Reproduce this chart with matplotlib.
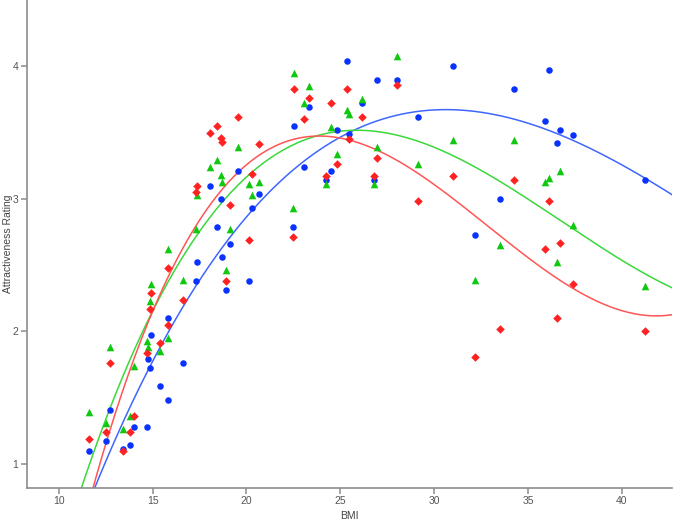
import numpy as np
import matplotlib
matplotlib.use("Agg")
import matplotlib.pyplot as plt

# ==== Data ====
bmi = [11.60, 12.52, 12.73, 13.44, 13.81, 14.01, 14.70, 14.74, 14.89, 14.92,
       15.41, 15.80, 15.83, 16.62, 17.30, 17.35, 18.04, 18.45, 18.65, 18.68,
       18.91, 19.10, 19.55, 20.15, 20.31, 20.67, 22.49, 22.51, 23.08, 23.34,
       24.22, 24.51, 24.82, 25.34, 25.48, 26.17, 26.78, 26.94, 28.01, 29.14,
       31.02, 32.17, 33.51, 34.26, 35.92, 36.14, 36.56, 36.72, 37.42, 41.24]

rating_blue = [1.10, 1.17, 1.41, 1.11, 1.14, 1.28, 1.28, 1.79, 1.72, 1.97,
               1.59, 1.48, 2.10, 1.76, 2.38, 2.52, 3.10, 2.79, 3.00, 2.56,
               2.31, 2.66, 3.21, 2.38, 2.93, 3.04, 2.79, 3.55, 3.24, 3.69,
               3.14, 3.21, 3.52, 4.04, 3.49, 3.72, 3.14, 3.90, 3.90, 3.62,
               4.00, 2.73, 3.00, 3.83, 3.59, 3.97, 3.42, 3.52, 3.48, 3.14]

rating_red = [1.19, 1.24, 1.76, 1.10, 1.24, 1.36, 1.84, np.nan, 2.17, 2.29,
              1.91, 2.05, 2.48, 2.24, 3.05, 3.10, 3.50, 3.55, 3.46, 3.43,
              2.38, 2.95, 3.62, 2.69, 3.19, 3.41, 2.71, 3.83, 3.60, 3.76,
              3.17, 3.72, 3.26, 3.83, 3.45, 3.62, 3.17, 3.31, 3.86, 2.98,
              3.17, 1.81, 2.02, 3.14, 2.62, 2.98, 2.10, 2.67, 2.36, 2.00]

rating_green = [1.39, 1.31, 1.88, 1.26, 1.36, 1.74, 1.93, 1.88, 2.23, 2.36,
                1.85, 1.95, 2.62, 2.39, 2.77, 3.03, 3.24, 3.29, 3.18, 3.13,
                2.46, 2.77, 3.39, 3.11, 3.03, 3.13, 2.93, 3.95, 3.72, 3.85,
                3.11, 3.54, 3.34, 3.67, 3.64, 3.75, 3.11, 3.39, 4.08, 3.26,
                3.44, 2.39, 2.65, 3.44, 3.13, 3.16, 2.52, 3.21, 2.80, 2.34]

# ==== Style ====
plt.rcParams['font.family'] = ['Liberation Sans', 'DejaVu Sans']
axis_grey = '#8c8c8c'

fig = plt.figure(figsize=(6.75, 5.2), dpi=100)
ax = fig.add_axes([0.0396, 0.0615, 0.956, 0.9385])

series = [
    (rating_blue, '#0a32ff', '#3f66ff', 'o', 22),
    (rating_green, '#10c810', '#3ad83a', '^', 30),
    (rating_red, '#ff2222', '#ff5555', 'D', 19),
]

x = np.array(bmi)
x_fit = np.linspace(8.3, 42.67, 300)
for values, c, lc, m, s in series:
    y = np.array(values, dtype=float)
    ok = ~np.isnan(y)
    ax.scatter(x[ok], y[ok], marker=m, s=s, color=c, linewidths=0, zorder=3)
    coefs = np.polyfit(x[ok], y[ok], 3)  # cubic fit line, as in the source
    ax.plot(x_fit, np.polyval(coefs, x_fit), color=lc, lw=1.1, zorder=2)

ax.set_xlim(8.3, 42.67)
ax.set_ylim(0.818, 4.5)
ax.set_xticks([10, 15, 20, 25, 30, 35, 40])
ax.set_yticks([1, 2, 3, 4])

for side in ['top', 'right']:
    ax.spines[side].set_visible(False)
for side in ['left', 'bottom']:
    ax.spines[side].set_color(axis_grey)
    ax.spines[side].set_linewidth(1.2)
ax.tick_params(colors='#555555', labelsize=7.5, length=4, width=1.1, pad=2)
ax.tick_params(axis='both', color=axis_grey)

ax.set_xlabel('BMI', fontsize=7.5, color='#444444', labelpad=3)
ax.set_ylabel('Attractiveness Rating', fontsize=7.5, color='#444444')
ax.yaxis.set_label_coords(-0.022, 0.5)

plt.savefig('out.png', dpi=100)
